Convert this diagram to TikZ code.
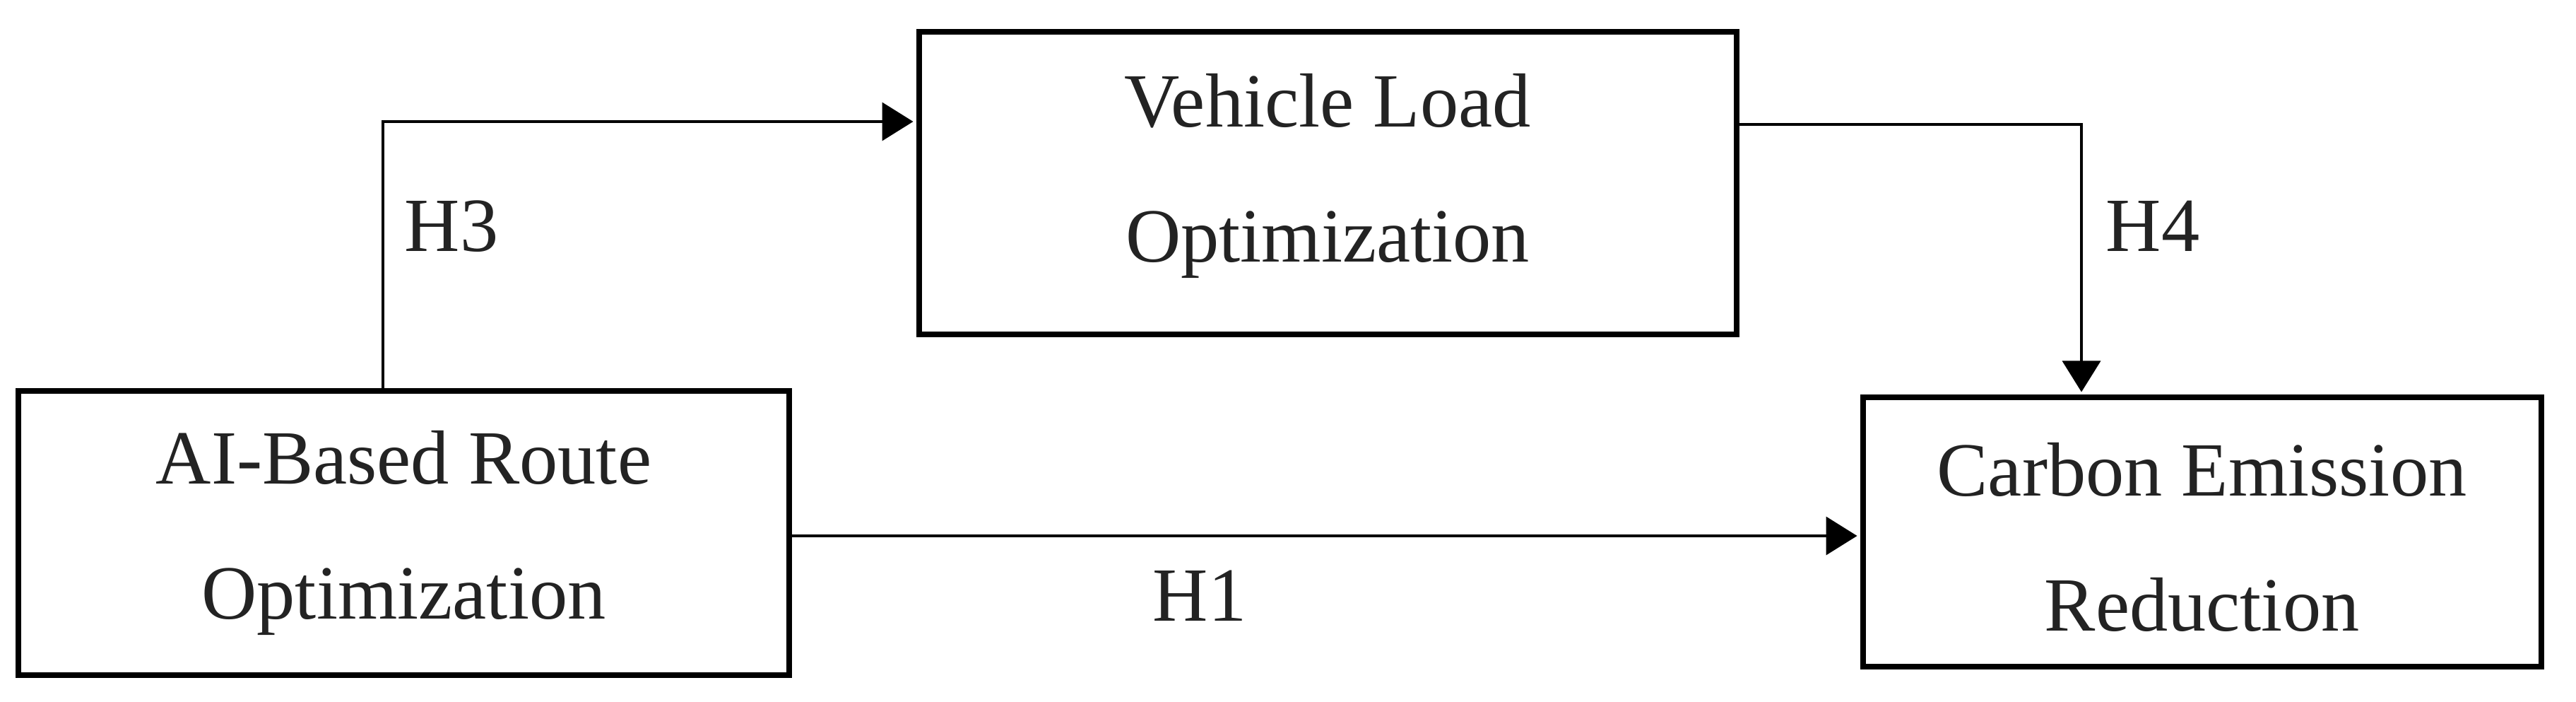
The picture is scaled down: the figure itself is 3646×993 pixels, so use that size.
\documentclass[tikz,border=0pt]{standalone}
\usepackage{fontspec}
\setmainfont{Liberation Serif}
\usetikzlibrary{arrows.meta}
\definecolor{txt}{HTML}{232323}
\begin{document}
\begin{tikzpicture}[x=0.25pt,y=-0.25pt,
  box/.style={draw=black,line width=2pt,rectangle,inner sep=0pt,align=center,
    text=txt,font=\fontsize{27.1pt}{47.75pt}\selectfont},
  conn/.style={draw=black,line width=0.9pt},
  arr/.style={conn,-{Triangle[length=11pt,width=13.5pt]},shorten >=1pt},
  hlab/.style={inner sep=0pt,anchor=base,text=txt,font=\fontsize{27.1pt}{32pt}\selectfont}]
\useasboundingbox[fill=white] (0,0) rectangle (3646,993);
% boxes
\node[box,minimum width=1091*0.25pt,minimum height=402*0.25pt] (a) at (571.5,754) {AI-Based Route\\Optimization};
\node[box,minimum width=1157*0.25pt,minimum height=428*0.25pt] (v) at (1879,259) {Vehicle Load\\Optimization\rule[-11pt]{0pt}{0pt}};
\node[box,minimum width=960*0.25pt,minimum height=380*0.25pt] (c) at (3116.5,752.5) {\rule{0pt}{22.6pt}Carbon Emission\\Reduction};
% turning points
\coordinate (h3turn) at (542,172);
\coordinate (h4turn) at (2946,176);
\coordinate (h1y) at (0,758);
% connectors
\draw[arr] (a.north -| h3turn) -- (h3turn) -- (v.west |- h3turn);
\draw[arr] (v.east |- h4turn) -- (h4turn) -- (c.north -| h4turn);
\draw[arr] (a.east |- h1y) -- (c.west |- h1y);
% labels
\node[hlab] (h3) at (639,356) {H3};
\node[hlab] (h4) at (3047,356) {H4};
\node[hlab] (h1) at (1698,878) {H1};
\end{tikzpicture}
\end{document}
